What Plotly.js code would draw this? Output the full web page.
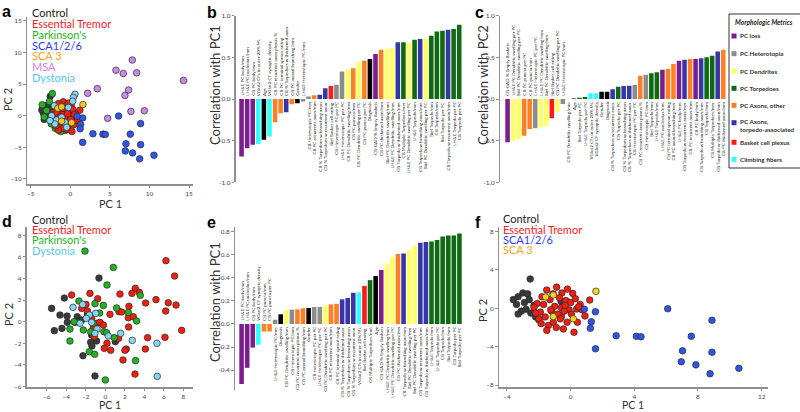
<!DOCTYPE html>
<html><head><meta charset="utf-8">
<script src="https://cdn.plot.ly/plotly-3.0.1.min.js"></script>
<style>html,body{margin:0;padding:0;background:#fff}#chart{width:800px;height:412px}</style>
</head><body><div id="chart"></div>
<script>
// ---------------- DATA ----------------
// Panel a / f : PCA scores (PC1, PC2)
const controlX = [-2.54,-3.3,-3.0,-2.7,-3.4,-2.9,-2.6,-3.1,-2.8,-2.3,-3.3,-2.5,-0.6,-2.0,-3.6,-2.2];
const controlY = [3.05,1.2,1.6,1.5,0.4,0.6,0.9,-0.3,-0.1,0.3,-0.6,-0.5,0.7,-1.2,0.9,-0.9];
const etX = [-0.88,-0.55,0.13,1.2,0.6,0.38,0.72,-0.1,-0.58,-0.58,-0.22,0.43,-0.46,0.21,-1.09,-1.5,-1.8,-2.1,-1.3,-1.0,-0.7,-0.3,0.0,0.3,-1.9,-2.3,-1.6,-1.2,-0.8,-0.4,-1.4,-2.0,-0.9,0.9,0.5,-1.7,-1.1,-0.2,-2.2,-1.5,-0.65,0.05,-1.25,-0.35,-1.85];
const etY = [2.2,1.6,1.55,0.86,0.4,-0.07,-0.16,-0.16,0.07,-0.87,-1.45,-1.45,-2.15,-2.5,-1.45,1.9,1.2,0.5,0.9,0.2,1.1,0.8,0.6,1.0,-0.4,0.1,-0.9,-0.3,-0.6,-0.3,-1.8,-1.1,-2.0,-0.8,0.15,0.4,1.5,2.0,-0.5,-2.3,-1.1,-0.6,-0.15,0.3,-1.6];
const pdX = [-2.27,-3.54,-2.65,-3.0,-0.67,-1.9,-2.4,-1.2,-3.3,-0.3,-2.0,-1.5];
const pdY = [3.48,1.72,2.24,0.8,-2.34,-2.0,-1.3,-2.5,-0.2,-2.2,1.5,0.3];
const sca126X = [6.1,8.88,2.86,4.13,4.42,7.58,1.56,7.03,8.88,6.95,7.87,10.57,8.76,1.56,1.3,1.24,0.86];
const sca126Y = [-0.05,-1.25,-2.86,-2.92,-2.97,-2.92,-4.22,-4.43,-4.58,-5.57,-5.89,-6.25,-6.82,-0.36,-1.4,-2.08,-0.1];
const sca3X = [-1.57,-1.09,1.59,-1.09,0.17];
const sca3Y = [1.18,1.39,1.77,-0.87,-1.1];
const msaX = [5.77,6.69,7.83,8.38,14.3,7.37,6.9,2.19,3.41,7.66,9.35,4.72];
const msaY = [7.19,6.67,8.8,6.77,5.57,4.06,3.2,3.54,4.27,0.68,0.78,-0.42];
const dysX = [0.59,0.38,0.3,-2.02,-2.36,-1.73,-1.09,-0.67,-1.94,-1.3,-0.25,-2.57,-0.46];
const dysY = [3.39,2.87,2.3,1.56,0,-0.68,-0.26,-1.04,-1.3,1.4,1.3,-0.78,-1.83];

// Panel d : PCA scores
const dControlX = [-0.65,-4.2,-5.5,-4.64,-3.92,-2.87,-3.89,-3.1,-5.22,-4.44,-2.42,-1.4,-0.89,-1.5,-1.37,-2.29,1.02,-1.06,-1.84];
const dControlY = [4.04,2.19,1.23,0.62,0.52,0.46,-0.06,-0.06,-0.83,-0.62,0.15,-1.23,-1.79,-1.91,-2.25,-3.15,-1.85,-5.03,0.62];
const dEtX = [6.21,7.1,3.07,3.48,2.73,1.5,-3.45,-1.57,-0.78,4.13,5.19,6.45,7.24,6.18,2.42,1.4,1.67,0.48,2.35,2.87,-2.42,-1.98,-1.84,-1.4,-0.89,-0.55,-0.2,-1.23,7.82,2.39,4.33,6.11,1.37,0.17,-0.1,0.55,2.15,2.01,4.1,1.81,3.04,-1.13];
const dEtY = [5.65,4.23,3.09,2.72,2.62,2.56,2.47,2.62,2.13,1.73,2.04,1.76,1.54,0.99,1.42,0.93,0.9,0.68,0.37,0.46,1.23,1.6,0.99,0.31,-0.15,-0.06,-0.31,-0.62,-0.8,-0.49,-1.48,-1.45,-1.54,-2.0,-2.47,-2.65,-2.53,-2.65,-2.53,-3.55,-4.85,-1.39];
const dPdX = [-2.08,0.82,0.17,3.58,-2.7,-1.06,-0.2,1.16,2.35,3.21,-0.58,-3.2,-2.25,-3.62,-1.5,-0.14,0.14,0.92,-3.62,-1.64,-1.09,3.1,0,-1.23];
const dPdY = [6.54,5.03,3.4,2.44,1.91,1.67,1.51,1.27,0.86,0.06,0.8,0,-0.77,-0.68,-0.93,-0.93,-1.02,-1.48,-1.79,-2.78,-3.02,-3.61,-5.4,-0.15];
const dDysX = [-3.31,-2.32,-1.64,-0.99,-1.95,-2.59,-0.85,-1.06,0.31,1.57,2.76,5.29,5.32,-1.4];
const dDysY = [1.33,1.6,0.62,0.77,0.31,-0.15,-0.68,-1.08,-1.33,-1.08,-1.73,-2.0,-5.06,-0.06];

// Panel b : correlation with PC1
const bLabels = ["LH&E PC body/mm","LH&E PC nucleolus/mm","CB PC body/mm","VGlut2 CFs in outer 20% ML","Age","VGlut2 CF synaptic density","CB PC recurrent axon plexus %","CB PC terminal sprout rating","CB % Torpedoes w thickened axon","CB PC axonal branching/mm","Gender","LH&E Heterotopic PC/mm","CB Heterotopic PC/mm","CB PC recurrent axon/mm","CB % Torpedoes w branching axon","CB % Torpedoes w recurrent axon","Biel Basket cell rating","CB Heterotopic PC per PC","LH&E Heterotopic PC per PC","CB PC Dendritic swelling/mm","CB PC puncta/mm","CB PC Dendritic swelling per PC","CB PC puncta per PC","Diagnosis","CB-GAD % Empty Baskets","CB PC thickened axon/mm","Biel PC Dendritic swelling/mm","LH&E PC Dendritic swelling/mm","CB Torpedo w thickened axon/mm","CB Multiple Torpedoes/mm","LH&E PC Dendritic swelling per PC","LH&E Torpedo/mm","CB Torpedo w branching axon/mm","Biel PC Dendritic swelling per PC","Biel Torpedo/mm","CB Torpedo/mm","Biel Torpedo per PC","CB Torpedo w recurrent axon/mm","LH&E Torpedo per PC","CB Torpedo per PC"];
const bValues = [-0.69,-0.59,-0.55,-0.54,-0.49,-0.45,-0.28,-0.17,-0.16,-0.064,-0.05,-0.03,0.03,0.044,0.05,0.13,0.155,0.17,0.33,0.35,0.37,0.44,0.46,0.48,0.54,0.59,0.60,0.61,0.68,0.68,0.68,0.71,0.72,0.72,0.76,0.81,0.82,0.83,0.84,0.89];

// Panel c : correlation with PC2
const cLabels = ["CB-GAD % Empty Baskets","LH&E PC Dendritic swelling per PC","Biel PC Dendritic swelling per PC","CB PC puncta per PC","CB PC puncta/mm","LH&E Heterotopic PC per PC","LH&E PC Dendritic swelling/mm","Biel PC Dendritic swelling/mm","Biel Basket cell rating","CB PC Dendritic swelling per PC","LH&E Heterotopic PC/mm","CB PC Dendritic swelling/mm","Age","Biel Torpedo per PC","LH&E Torpedo per PC","VGlut2 CFs in outer 20% ML","VGlut2 CF synaptic density","Gender","Diagnosis","CB % Torpedoes w recurrent axon","CB Torpedo per PC","CB % Torpedoes w branching axon","CB % Torpedoes w thickened axon","CB Heterotopic PC per PC","CB PC recurrent axon plexus %","CB Heterotopic PC/mm","Biel Torpedo/mm","LH&E Torpedo/mm","LH&E PC nucleolus/mm","CB PC terminal sprout rating","CB PC axonal branching/mm","LH&E PC body/mm","CB Torpedo w recurrent axon/mm","CB PC recurrent axon/mm","CB PC body/mm","CB Torpedo w branching axon/mm","CB Torpedo/mm","CB Multiple Torpedoes/mm","CB Torpedo w thickened axon/mm","CB PC thickened axon/mm"];
const cValues = [-0.52,-0.50,-0.48,-0.44,-0.36,-0.35,-0.34,-0.32,-0.23,-0.16,-0.06,0.003,0.006,0.016,0.024,0.068,0.068,0.088,0.088,0.116,0.148,0.156,0.16,0.168,0.28,0.29,0.31,0.32,0.35,0.36,0.42,0.46,0.47,0.48,0.48,0.49,0.50,0.52,0.57,0.59];

// Panel e : correlation with PC1 (ET / PD / Dystonia / Control)
const eLabels = ["LH&E PC body/mm","LH&E PC nucleolus/mm","CB PC body/mm","VGlut2 CF synaptic density","CB PC puncta/mm","CB PC puncta per PC","LH&E Heterotopic PC/mm","Diagnosis","CB PC Dendritic swelling/mm","CB Heterotopic PC/mm","CB PC recurrent axon plexus %","CB PC axonal branching/mm","Gender","CB Heterotopic PC per PC","LH&E Heterotopic PC per PC","CB PC Dendritic swelling per PC","CB PC recurrent axon/mm","CB PC terminal sprout rating","CB % Torpedoes w thickened axon","CB % Torpedoes w branching axon","CB % Torpedoes w recurrent axon","VGlut2 CFs in outer 20% ML","Biel Basket cell rating","CB Multiple Torpedoes/mm","Age","CB-GAD % Empty Baskets","LH&E PC Dendritic swelling/mm","LH&E PC Dendritic swelling per PC","CB PC thickened axon/mm","CB Torpedo w branching axon/mm","Biel PC Dendritic swelling/mm","Biel PC Dendritic swelling per PC","CB Torpedo w recurrent axon/mm","CB Torpedo w thickened axon/mm","LH&E Torpedo/mm","LH&E Torpedo per PC","CB Torpedo/mm","Biel Torpedo/mm","CB Torpedo per PC","Biel Torpedo per PC"];
const eValues = [-0.52,-0.38,-0.205,-0.18,-0.066,-0.066,0.037,0.084,0.12,0.124,0.127,0.136,0.139,0.147,0.147,0.16,0.17,0.175,0.214,0.225,0.27,0.275,0.33,0.38,0.416,0.468,0.517,0.578,0.607,0.61,0.64,0.68,0.705,0.71,0.714,0.728,0.757,0.766,0.766,0.783];

// Metric groups (legend "Morphologic Metrics")
const groupNames = ["PC loss","PC Heterotopia","PC Dendrites","PC Torpedoes","PC Axons, other","PC Axons, torpedo-associated","Basket cell plexus","Climbing fibers"];
const grpPCloss = ["LH&E PC body/mm","LH&E PC nucleolus/mm","CB PC body/mm","CB-GAD % Empty Baskets"];
const grpHetero = ["LH&E Heterotopic PC/mm","CB Heterotopic PC/mm","CB Heterotopic PC per PC","LH&E Heterotopic PC per PC"];
const grpDendr = ["CB PC Dendritic swelling/mm","CB PC Dendritic swelling per PC","Biel PC Dendritic swelling/mm","LH&E PC Dendritic swelling/mm","LH&E PC Dendritic swelling per PC","Biel PC Dendritic swelling per PC"];
const grpTorp = ["CB Multiple Torpedoes/mm","LH&E Torpedo/mm","Biel Torpedo/mm","CB Torpedo/mm","Biel Torpedo per PC","LH&E Torpedo per PC","CB Torpedo per PC"];
const grpAxOther = ["CB PC recurrent axon plexus %","CB PC terminal sprout rating","CB PC axonal branching/mm","CB PC recurrent axon/mm","CB PC puncta/mm","CB PC puncta per PC","CB PC thickened axon/mm"];
const grpAxTorp = ["CB % Torpedoes w thickened axon","CB % Torpedoes w branching axon","CB % Torpedoes w recurrent axon","CB Torpedo w thickened axon/mm","CB Torpedo w branching axon/mm","CB Torpedo w recurrent axon/mm"];
const grpBasket = ["Biel Basket cell rating"];
const grpCF = ["VGlut2 CFs in outer 20% ML","VGlut2 CF synaptic density"];
const grpClinical = ["Age","Gender","Diagnosis"];

// Tick labels
const corrTicks1 = [-1,-0.5,0,0.5,1];
const corrTickText1 = ["-1.0","-0.5","0.0","0.5","1.0"];
const corrTicksE = [-0.4,-0.2,0,0.2,0.4,0.6,0.8];
const corrTickTextE = ["-0.4","-0.2","0.0","0.2","0.4","0.6","0.8"];

// ---------------- STYLE ----------------
const W = 800, H = 412;
const FONT = 'Lato, "Open Sans", sans-serif';
const groupColors = ["#7b1d8c","#8c8c8c","#ffff66","#0e6b12","#ff7f24","#3636a8","#ff1a1a","#33ffff"];
const clinicalColor = "#000000";
const C = {control:"#3a3a3a", et:"#f21f10", pd:"#22b322", sca126:"#2f55e8", sca3:"#f7c51c", msa:"#c98be6", dys:"#85d5f3"};
const T = {control:"#222222", et:"#ee1c25", pd:"#1fb41f", sca126:"#2e3ee6", sca3:"#f7a21b", msa:"#d07ee6", dys:"#55c6ee"};

const groupLists = [grpPCloss,grpHetero,grpDendr,grpTorp,grpAxOther,grpAxTorp,grpBasket,grpCF];
function colorOf(label){
  for (let g=0; g<groupLists.length; g++) if (groupLists[g].includes(label)) return groupColors[g];
  return clinicalColor;
}
const fx = x => x/W, fy = y => 1 - y/H;
const xdom = (a,b) => [fx(a), fx(b)];
const ydom = (top,bot) => [fy(bot), fy(top)];

const axisBase = {showline:true, linecolor:'#8f8f8f', linewidth:1.5, ticks:'outside', ticklen:2.5, tickwidth:1, tickcolor:'#8f8f8f',
  showgrid:false, zeroline:false, tickfont:{size:6.4, color:'#444', family:FONT}, fixedrange:true};
const hidden = {visible:false, fixedrange:true};

function scat(x,y,color,xa,ya){
  return {type:'scatter', mode:'markers', x, y, xaxis:xa, yaxis:ya, hoverinfo:'skip', cliponaxis:false,
    marker:{size:6.6, color, line:{color:'#2a2a2a', width:0.7}}};
}
function bars(labels, values, xa, ya){
  return {type:'bar', x:labels.map((_,i)=>i), y:values, xaxis:xa, yaxis:ya, width:0.82, hoverinfo:'skip',
    marker:{color:labels.map(colorOf), line:{width:0}}};
}

const data = [
  // a
  scat(controlX,controlY,C.control,'x','y'),
  scat(pdX,pdY,C.pd,'x','y'),
  scat(etX,etY,C.et,'x','y'),
  scat(dysX,dysY,C.dys,'x','y'),
  scat(sca3X,sca3Y,C.sca3,'x','y'),
  scat(sca126X,sca126Y,C.sca126,'x','y'),
  scat(msaX,msaY,C.msa,'x','y'),
  // b, c
  bars(bLabels,bValues,'x2','y2'),
  bars(cLabels,cValues,'x3','y3'),
  // d
  scat(dControlX,dControlY,C.control,'x4','y4'),
  scat(dEtX,dEtY,C.et,'x4','y4'),
  scat(dPdX,dPdY,C.pd,'x4','y4'),
  scat(dDysX,dDysY,C.dys,'x4','y4'),
  // e
  bars(eLabels,eValues,'x5','y5'),
  // f
  scat(controlX,controlY,C.control,'x6','y6'),
  scat(etX,etY,C.et,'x6','y6'),
  scat(sca126X,sca126Y,C.sca126,'x6','y6'),
  scat(sca3X,sca3Y,'#f5d41e','x6','y6')
];

const ann = [];
function txt(x,y,text,opts){
  ann.push(Object.assign({xref:'paper', yref:'paper', x:fx(x), y:fy(y), text, showarrow:false, xanchor:'left', yanchor:'middle',
    borderpad:0, font:{size:11, family:FONT, color:'#222'}}, opts||{}));
}
// panel letters
[['a',1,2],['b',206,3],['c',474,3],['d',1,212],['e',206,213],['f',474,213]].forEach(([l,x,y])=>
  txt(x,y,'<b>'+l+'</b>',{yanchor:'top', font:{size:16, family:'"Liberation Sans", Arial, sans-serif', color:'#000'}}));

// scatter legends
const legA = [['Control',T.control],['Essential Tremor',T.et],["Parkinson's",T.pd],['SCA1/2/6',T.sca126],['SCA 3',T.sca3],['MSA',T.msa],['Dystonia',T.dys]];
legA.forEach(([t,c],i)=>txt(31,12.7+i*10.8,t,{font:{size:11,family:FONT,color:c}}));
const legD = [['Control',T.control],['Essential Tremor',T.et],["Parkinson's",T.pd],['Dystonia',T.dys]];
legD.forEach(([t,c],i)=>txt(31,219+i*10.5,t,{font:{size:11,family:FONT,color:c}}));
const legF = [['Control',T.control],['Essential Tremor',T.et],['SCA1/2/6',T.sca126],['SCA 3',T.sca3]];
legF.forEach(([t,c],i)=>txt(502,218.7+i*10.4,t,{font:{size:11,family:FONT,color:c}}));

// axis titles
const tf = {size:11, family:FONT, color:'#333'};
const tfb = {size:10.5, family:FONT, color:'#333'};
txt(110,196.5,'PC 1',{xanchor:'center', yanchor:'top', font:tf});
txt(7,100,'PC 2',{xanchor:'center', textangle:-90, font:tf});
txt(110,412,'PC 1',{xanchor:'center', yanchor:'bottom', font:tfb});
txt(8,315,'PC 2',{xanchor:'center', textangle:-90, font:tf});
txt(633,412,'PC 1',{xanchor:'center', yanchor:'bottom', font:tfb});
txt(482,311,'PC 2',{xanchor:'center', textangle:-90, font:tf});
const tf2 = {size:13, family:FONT, color:'#333'};
txt(215,85,'Correlation with PC1',{xanchor:'center', textangle:-90, font:tf2});
txt(483,85,'Correlation with PC2',{xanchor:'center', textangle:-90, font:tf2});
txt(215,302,'Correlation with PC1',{xanchor:'center', textangle:-90, font:tf2});

// bar labels
function barLabels(labels, values, xa, ya){
  labels.forEach((lab,i)=>{
    const neg = values[i] < 0;
    ann.push({xref:xa, yref:ya, x:i, y:0, text:lab.replace(/&/g,'&amp;'), textangle:-90, showarrow:false,
      xanchor:'center', yanchor: neg ? 'bottom' : 'top', yshift: neg ? 2 : -2, borderpad:0,
      font:{size:4.6, family:FONT, color:'#222'}});
  });
}
barLabels(bLabels,bValues,'x2','y2');
barLabels(cLabels,cValues,'x3','y3');
barLabels(eLabels,eValues,'x5','y5');

// Morphologic metrics legend
const shapes = [{type:'rect', xref:'paper', yref:'paper', x0:fx(729), x1:fx(810), y0:fy(168), y1:fy(14), line:{color:'#333', width:1}, fillcolor:'rgba(0,0,0,0)'}];
txt(764,21.5,'<b><i>Morphologic Metrics</i></b>',{xanchor:'center', font:{size:6.6, family:FONT, color:'#222'}});
const legY = [36,53.7,71,88.3,105.3,122.7,142.3,159.3];
groupNames.forEach((g,i)=>{
  const y = legY[i];
  shapes.push({type:'rect', xref:'paper', yref:'paper', x0:fx(731.5), x1:fx(736.5), y0:fy(y+2.5), y1:fy(y-2.5), line:{width:0}, fillcolor:groupColors[i]});
  const t = g === 'PC Axons, torpedo-associated' ? 'PC Axons,<br>torpedo-associated' : g;
  txt(739, t.includes('<br>') ? y+2.7 : y, '<b>'+t+'</b>', {align:'left', font:{size:6.3, family:FONT, color:'#333'}});
});

const layout = {
  width:W, height:H, autosize:false, margin:{l:0,r:0,t:0,b:0}, paper_bgcolor:'#fff', plot_bgcolor:'rgba(0,0,0,0)',
  showlegend:false, font:{family:FONT}, bargap:0.17,
  xaxis: Object.assign({}, axisBase, {domain:xdom(27,193), range:[-5.47,15.5], tickvals:[-5,0,5,10,15], anchor:'y'}),
  yaxis: Object.assign({}, axisBase, {domain:ydom(17,184), range:[-10.8,15.6], tickvals:[-10,-5,0,5,10,15], anchor:'x'}),
  xaxis2: Object.assign({}, hidden, {domain:xdom(235.7,462), range:[-1.05,39.5], anchor:'y2'}),
  yaxis2: Object.assign({}, axisBase, {domain:ydom(15.7,182.3), range:[-1,1], tickvals:corrTicks1, ticktext:corrTickText1, anchor:'x2'}),
  xaxis3: Object.assign({}, hidden, {domain:xdom(500,726), range:[-1.37,39.5], anchor:'y3'}),
  yaxis3: Object.assign({}, axisBase, {domain:ydom(15.7,182.3), range:[-1,1], tickvals:corrTicks1, ticktext:corrTickText1, anchor:'x3'}),
  xaxis4: Object.assign({}, axisBase, {domain:xdom(26.7,193), range:[-8.05,8.98], tickvals:[-6,-4,-2,0,2,4,6,8], anchor:'y4'}),
  yaxis4: Object.assign({}, axisBase, {domain:ydom(226.7,387), range:[-6.05,8.8], tickvals:[-6,-4,-2,0,2,4,6,8], anchor:'x4'}),
  xaxis5: Object.assign({}, hidden, {domain:xdom(235,462), range:[-1.18,39.46], anchor:'y5'}),
  yaxis5: Object.assign({}, axisBase, {domain:ydom(226.7,390), range:[-0.572,0.843], tickvals:corrTicksE, ticktext:corrTickTextE, anchor:'x5'}),
  xaxis6: Object.assign({}, axisBase, {domain:xdom(499,768), range:[-4.5,12.4], tickvals:[-4,0,4,8,12], anchor:'y6'}),
  yaxis6: Object.assign({}, axisBase, {domain:ydom(226.7,387), range:[-8.2,8.5], tickvals:[-8,-4,0,4,8], anchor:'x6'}),
  annotations: ann, shapes
};
Plotly.newPlot('chart', data, layout, {displayModeBar:false, staticPlot:true});
</script></body></html>
